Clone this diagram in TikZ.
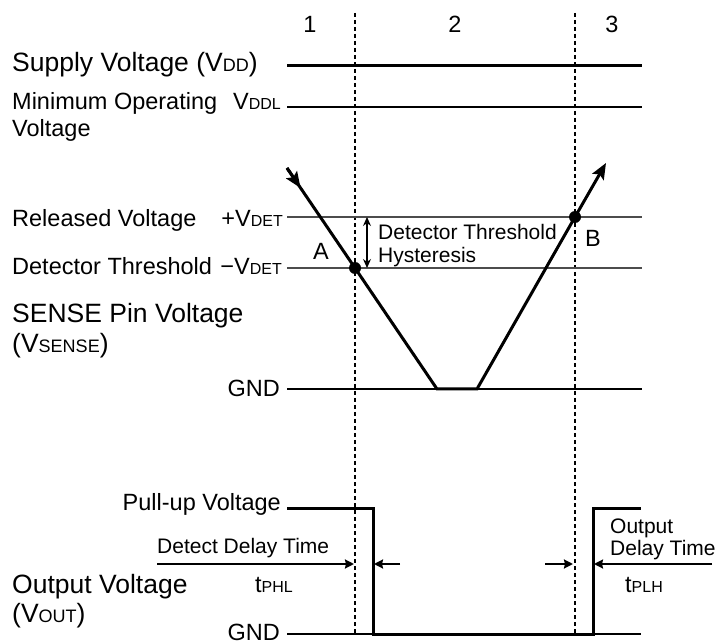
\documentclass[tikz,border=0pt]{standalone}
\usepackage{fontspec}
\setmainfont{Liberation Sans}
\usetikzlibrary{arrows.meta,calc}
\newcommand{\lo}[1]{\scalebox{0.68}{#1}}

\begin{document}
\begin{tikzpicture}[x=1pt,y=-1pt,
		big/.style={inner sep=0pt,font=\fontsize{26.5}{30}\selectfont},
		mid/.style={inner sep=0pt,font=\fontsize{23.5}{27}\selectfont},
		small/.style={inner sep=0pt,font=\fontsize{21}{25}\selectfont},
		levelline/.style={line width=1.2pt},
		sigline/.style={line width=3pt},
		divline/.style={line width=1.2pt,dash pattern=on 4pt off 3pt},
		delay/.style={line width=2pt,-{Stealth[length=9pt,width=9pt,inset=1pt]}},
		bigtip/.style={-{Stealth[length=16pt,width=13pt,inset=3pt]}}]
		\useasboundingbox (0,0) rectangle (718,644);
		\coordinate (top) at (287,168);
		\coordinate (A) at (355,268);
		\coordinate (low1) at (437,389);
		\coordinate (low2) at (477,389);
		\coordinate (B) at (575,217);
		\coordinate (end) at (606,163);
		\draw[divline](355,13)--(355,634);
		\draw[divline](575,13)--(575,634);
		\draw[sigline](287,66)--(642,66);
		\draw[levelline](287,107)--(642,107);
		\draw[levelline,black!70](287,217)--(642,217);
		\draw[levelline,black!70](287,268)--(642,268);
		\draw[levelline](287,389)--(642,389);
		\draw[levelline](287,634)--(641,634);
		\draw[sigline](top)--(A)--(low1)--(low2)--(B);
		\draw[sigline,bigtip](B)--(end);
		\draw[sigline,bigtip](top)--($(top)!0.2!(A)$);
		\fill(A)circle(6);
		\fill(B)circle(6);
		\draw[levelline,{Stealth[length=9pt,width=8pt]}-{Stealth[length=9pt,width=8pt]}](367,217)--(367,268);
		\draw[sigline](287,508)--(373,508)--(373,634)--(593,634)--(593,508)--(641,508);
		\draw[delay](157,564)--(354,564);
		\draw[delay](400,564)--(374,564);
		\draw[delay](545,564)--(573,564);
		\draw[delay](712,564)--(594,564);
		\node[mid,anchor=base](n1)at(310,33){1};
		\node[mid,anchor=base](n2)at(455,33){2};
		\node[mid,anchor=base](n3)at(612,33){3};
		\node[big,anchor=base west](supply)at(12,72){Supply Voltage (V\lo{DD})};
		\node[mid,anchor=base west](minop)at(12,110){Minimum Operating};
		\node[mid,anchor=base west](minop2)at(12,137){Voltage};
		\node[mid,anchor=base east](vddl)at(281,110){V\lo{DDL}};
		\node[mid,anchor=base west](rel)at(12,227){Released Voltage};
		\node[mid,anchor=base east](pdet)at(283,227){+V\lo{DET}};
		\node[mid,anchor=base west](det)at(12,275){Detector Threshold};
		\node[mid,anchor=base east](mdet)at(282,275){−V\lo{DET}};
		\node[big,anchor=base west](sense)at(12,323){SENSE Pin Voltage};
		\node[big,anchor=base west](sense2)at(12,353){(V\lo{SENSE})};
		\node[mid,anchor=base east](gnda)at(280,397){GND};
		\node[mid,anchor=base west](la)at(313,260){A};
		\node[mid,anchor=base west](lb)at(585,247){B};
		\node[small,anchor=base west](hys)at(378,240){Detector Threshold};
		\node[small,anchor=base west](hys2)at(378,263){Hysteresis};
		\node[mid,anchor=base east](pull)at(281,510){Pull-up Voltage};
		\node[small,anchor=base west](ddt)at(157,553){Detect Delay Time};
		\node[mid,anchor=base west](tphl)at(255,592){t\lo{PHL}};
		\node[big,anchor=base west](outv)at(12,593){Output Voltage};
		\node[big,anchor=base west](outv2)at(12,622){(V\lo{OUT})};
		\node[mid,anchor=base east](gndb)at(280,640){GND};
		\node[small,anchor=base west](odt)at(610,533){Output};
		\node[small,anchor=base west](odt2)at(610,555){Delay Time};
		\node[mid,anchor=base west](tplh)at(625,592){t\lo{PLH}};
		\end{tikzpicture}
\end{document}
